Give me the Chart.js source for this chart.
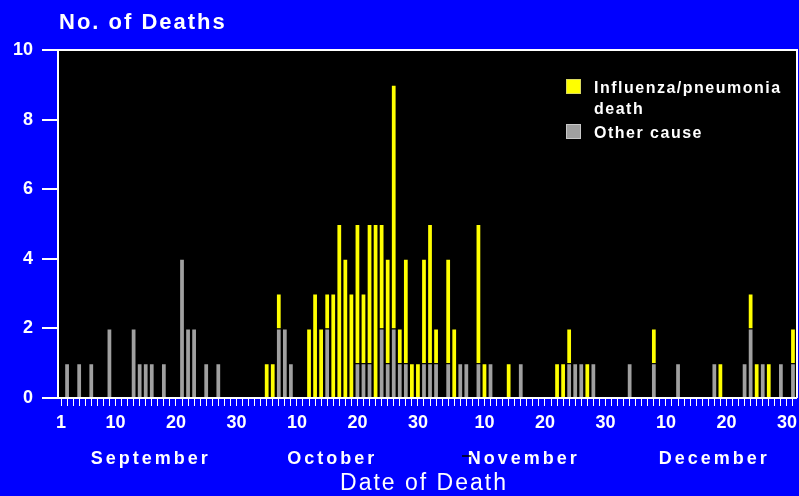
<!DOCTYPE html>
<html><head><meta charset="utf-8">
<script src="https://cdn.jsdelivr.net/npm/chart.js@4/dist/chart.umd.min.js"></script>
<style>html,body{margin:0;padding:0;background:#0000ff;overflow:hidden}</style>
</head><body>
<canvas id="c" width="799" height="496"></canvas>
<script>
// ---- categories ----
const monthNames = ['September', 'October', 'November', 'December'];
const monthLengths = [30, 31, 30, 31];
const labeledDays = [10, 20, 30];
const yTicks = [0, 2, 4, 6, 8, 10];
const seriesNames = ['Influenza/pneumonia death', 'Other cause'];
const xTitle = 'Date of Death';
const yTitle = 'No. of Deaths';

// ---- series values (deaths per day) ----
//                1 2 3 4 5 6 7 8 9 10 1 2 3 4 5 6 7 8 9 20 1 2 3 4 5 6 7 8 9 30 31
const otherSep = [0,1,0,1,0,1,0,0,2,0, 0,0,2,1,1,1,0,1,0,0, 4,2,2,0,1,0,1,0,0,0];
const fluSep   = [0,0,0,0,0,0,0,0,0,0, 0,0,0,0,0,0,0,0,0,0, 0,0,0,0,0,0,0,0,0,0];
const otherOct = [0,0,0,0,0,0,2,2,1,0, 0,0,0,0,2,0,0,0,0,1, 1,1,0,2,1,2,1,1,0,0, 1];
const fluOct   = [0,0,0,0,1,1,1,0,0,0, 0,2,3,2,1,3,5,4,3,4, 2,4,5,3,3,7,1,3,1,1, 3];
const otherNov = [1,1,0,1,0,1,1,0,1,0, 1,0,0,0,0,1,0,0,0,0, 0,0,0,1,1,1,0,1,0,0];
const fluNov   = [4,1,0,3,2,0,0,0,4,1, 0,0,0,1,0,0,0,0,0,0, 0,1,1,1,0,0,1,0,0,0];
const otherDec = [0,0,0,1,0,0,0,1,0,0, 0,1,0,0,0,0,0,1,0,0, 0,0,1,2,0,1,0,0,1,0, 1];
const fluDec   = [0,0,0,0,0,0,0,1,0,0, 0,0,0,0,0,0,0,0,1,0, 0,0,0,1,1,0,1,0,0,0, 1];

const otherCause = [...otherSep, ...otherOct, ...otherNov, ...otherDec];
const fluDeaths  = [...fluSep, ...fluOct, ...fluNov, ...fluDec];

// category labels and tick texts built from the month lists
const dayLabels = [];
const tickText = [];
monthLengths.forEach((len, m) => {
  for (let d = 1; d <= len; d++) {
    dayLabels.push(monthNames[m] + ' ' + d);
    tickText.push((d === 1 && m === 0) || labeledDays.includes(d) ? String(d) : '');
  }
});

const BLUE = '#0000ff';
const YELLOW = '#ffff00';
const GRAY = '#a0a0a0';
const WHITE = '#ffffff';
const FONT = '"Liberation Sans", Arial, sans-serif';

const decor = {
  id: 'decor',
  beforeDraw(chart) {
    const {ctx, chartArea: a} = chart;
    ctx.save();
    ctx.fillStyle = BLUE;
    ctx.fillRect(0, 0, chart.width, chart.height);
    ctx.fillStyle = '#000000';
    ctx.fillRect(a.left, a.top, a.right - a.left, a.bottom - a.top);
    ctx.restore();
  },
  afterDraw(chart) {
    const {ctx, chartArea: a} = chart;
    const xs = chart.scales.x;
    ctx.save();
    // frame
    ctx.strokeStyle = WHITE;
    ctx.lineWidth = 2;
    ctx.beginPath();
    ctx.moveTo(a.left - 16, a.top);
    ctx.lineTo(a.right + 1, a.top);
    ctx.lineTo(a.right + 1, a.bottom);
    ctx.stroke();

    ctx.fillStyle = WHITE;
    ctx.textBaseline = 'alphabetic';
    // y title
    ctx.font = 'bold 22px ' + FONT;
    ctx.letterSpacing = '2px';
    ctx.textAlign = 'left';
    ctx.fillText(yTitle, a.left + 1, 29);

    // month labels
    ctx.font = 'bold 18px ' + FONT;
    ctx.letterSpacing = '3px';
    ctx.textAlign = 'center';
    const nudge = [2, -1, 6, 12];
    let start = 0;
    monthLengths.forEach((len, m) => {
      const p0 = xs.getPixelForTick(start);
      const p1 = xs.getPixelForTick(start + len - 1);
      ctx.fillText(monthNames[m], (p0 + p1) / 2 + nudge[m], 464);
      start += len;
    });
    // small dark mark before November
    ctx.strokeStyle = '#000000';
    ctx.lineWidth = 1.5;
    ctx.beginPath();
    ctx.moveTo(462, 456);
    ctx.lineTo(471, 456);
    ctx.stroke();

    // x title
    ctx.font = '23px ' + FONT;
    ctx.letterSpacing = '2px';
    ctx.textAlign = 'center';
    ctx.fillText(xTitle, (a.left + a.right) / 2 - 3, 490);

    // legend
    ctx.font = 'bold 16px ' + FONT;
    ctx.letterSpacing = '1.5px';
    ctx.textAlign = 'left';
    const items = [
      {text: seriesNames[0], color: YELLOW, edge: '#d8d860'},
      {text: seriesNames[1], color: GRAY, edge: '#c8c8c8'}
    ];
    let y = 79;
    items.forEach(it => {
      ctx.fillStyle = it.color;
      ctx.fillRect(566, y, 15, 15);
      ctx.strokeStyle = it.edge;
      ctx.lineWidth = 1;
      ctx.strokeRect(566.5, y + 0.5, 14, 14);
      const words = it.text.split(' ');
      const lines = [];
      let cur = '';
      words.forEach(w => {
        const t = cur ? cur + ' ' + w : w;
        if (ctx.measureText(t).width > 195 && cur) { lines.push(cur); cur = w; } else cur = t;
      });
      lines.push(cur);
      ctx.fillStyle = WHITE;
      lines.forEach((ln, i) => ctx.fillText(ln, 594, y + 14 + i * 21));
      y += 45;
    });
    ctx.restore();
  }
};

new Chart(document.getElementById('c'), {
  type: 'bar',
  data: {
    labels: dayLabels,
    datasets: [
      {label: seriesNames[1], data: otherCause, backgroundColor: GRAY, borderColor: 'rgba(0,0,0,0.5)', borderWidth: 1, barPercentage: 0.95, categoryPercentage: 1.0},
      {label: seriesNames[0], data: fluDeaths, backgroundColor: YELLOW, borderColor: 'rgba(0,0,0,0.5)', borderWidth: 1, barPercentage: 0.95, categoryPercentage: 1.0}
    ]
  },
  options: {
    responsive: false,
    animation: false,
    devicePixelRatio: 1,
    layout: {padding: {top: 50, right: 3, left: 0, bottom: 0}},
    plugins: {legend: {display: false}, tooltip: {enabled: false}, title: {display: false}},
    scales: {
      x: {
        stacked: true,
        offset: true,
        grid: {display: true, drawOnChartArea: false, drawTicks: true, tickLength: 8, offset: false, color: WHITE, lineWidth: 1},
        border: {display: true, color: WHITE, width: 2},
        ticks: {autoSkip: false, maxRotation: 0, minRotation: 0, color: WHITE, padding: 6,
          font: {family: FONT, size: 18, weight: 'bold'},
          callback: (v, i) => tickText[i]},
        afterFit: s => { s.height = 98; }
      },
      y: {
        stacked: true,
        min: 0, max: 10,
        afterBuildTicks: s => { s.ticks = yTicks.map(v => ({value: v})); },
        grid: {display: true, drawOnChartArea: false, drawTicks: true, tickLength: 16, color: WHITE, lineWidth: 2},
        border: {display: true, color: WHITE, width: 2},
        ticks: {color: WHITE, padding: 9, font: {family: FONT, size: 18, weight: 'bold'}},
        afterFit: s => { s.width = 58; }
      }
    }
  },
  plugins: [decor]
});
</script>
</body></html>
